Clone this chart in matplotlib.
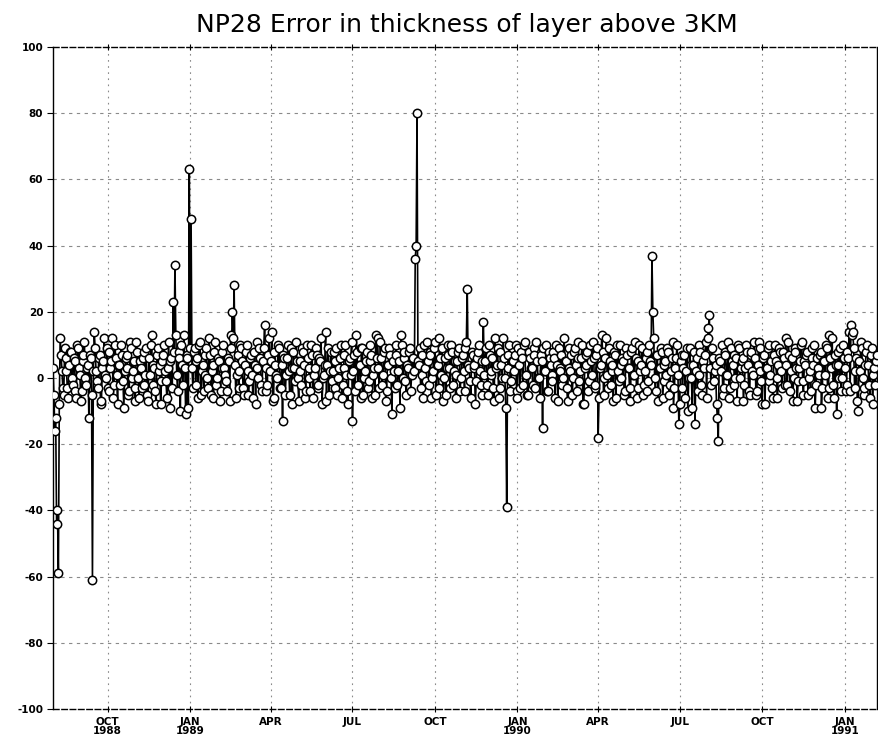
import numpy as np
import matplotlib
matplotlib.use("Agg")
import matplotlib.pyplot as plt
import datetime as dt

# Error values on even days (every 2 days starting 1 Aug 1988)
err_1988 = [3, -16, -44, -59, 12, 2, -5, 6, -3, 4,
            8, -2, 5, -6, 9, 1, -4, 7, 0, 3,
            -12, 6, -61, 14, 2, -3, 7, -7, 5, 1,
            9, -4, 3, 12, -2, 6, -8, 4, 10, -1,
            2, 7, -5, 11, 0, 5, -3, 8, -6, 3,
            6, -2, 9, -7, 1, 13, 4, -4, 7, 2,
            -8, 5, 10, -1, 3, -9, 6, 23, 34, 1,
            8, -10, 4, 13, -11, 6, 63]
err_1989 = [48, -3, 9, 5, -6, 11, 2, -4, 7, 0,
            12, -5, 4, 8, -2, 6, -7, 3, 10, 1,
            -4, 5, 13, 20, 28, -6, 7, 2, 9, -3,
            4, 10, -5, 6, 1, 8, -8, 3, 9, -2,
            5, 16, -4, 7, 2, 14, -6, 4, 0, 9,
            -3, -13, 6, 1, 10, -5, 3, 8, -1, 5,
            -7, 2, 9, 4, -4, 6, 0, 10, -6, 3,
            7, -2, 5, -8, 1, 14, 4, -5, 8, 2,
            -3, 9, 0, 6, -6, 3, 10, -4, 5, 1,
            -13, 7, 13, -2, 4, 9, -5, 2, 8, -1,
            5, -6, 3, 13, 12, -3, 6, 1, 9, -4,
            4, 7, -11, 2, 10, -2, 5, 13, 0, 8,
            -5, 3, 9, 1, 6, 36, 80, 4, -3, 7,
            10, -1, 5, 8, -6, 2, 11, 4, -3, 6,
            9, 0, -5, 7, 3, 10, -2, 5, 1, 8,
            -4, 6, 2, 9, 27, 3, -6, 7, 4, -1,
            8, 2, -5, 17, 5, -2, 10, 1, 6, -7,
            3, 9, -3, 4, 12, 0, -39, 7, -4, 5,
            2, 10, -6]
err_1990 = [4, 8, -2, 11, 1, -5, 6, 3, 9, -3,
            5, 0, 7, -15, 2, 10, -4, 6, 1, 8,
            -6, 4, 9, 2, -2, 12, 5, -7, 3, 7,
            0, 9, -4, 6, 2, 10, -8, 4, 8, -1,
            5, 11, -3, 7, -18, 3, 13, -5, 6, 1,
            9, -2, 4, 8, -6, 2, 10, 0, 5, -4,
            7, 3, -7, 9, 1, 6, -3, 10, 4, -5,
            2, 8, -1, 5, 37, 12, -4, 7, 3, 9,
            -6, 4, 1, 8, -2, 6, -9, 3, 10, -14,
            5, -3, 7, 2, -10, 9, 0, 4, -14, 6,
            1, 8, -5, 3, 11, 12, 19, -2, 6, 2,
            -8, -19, 5, 10, -3, 7, 1, -6, 9, 4,
            -2, 6, 10, 0, 5, -7, 3, 8, -4, 7,
            2, 11, -5, 4, 9, -1, 6, -8, 3, 10,
            1, -3, 7, 5, -6, 9, 2, 8, -2, 4,
            11, -4, 6, 0, 8, -7, 3, 10, -1, 5,
            7, -5, 2, 9, 4, -9, 6, 1, 8, -3,
            5, 10, -6, 13, 3, -2, 7, -11, 4, 9,
            0, 6, -4]
err_1991 = [8, 14, 16, 14, -3, 6, -10, 2, 9, -5, 4, 10, -2, 7, -8, 3, 5]

# Error values on odd days (the day after each value above)
odd_1988 = [-5, -12, -40, -8, 7, -3, 9, 2, -6, 8,
            0, 6, -4, 10, 3, -7, 5, 11, -2, 4,
            7, -5, 2, 9, -1, 6, -8, 3, 12, 0,
            -3, 8, 5, -6, 10, 1, 4, -2, 7, -9,
            6, 3, -4, 9, 2, -7, 11, 0, 5, -3,
            8, 1, -5, 6, 10, -2, 3, -8, 9, 4,
            -1, 7, 2, -6, 11, 5, -3, 8, 13, -4,
            6, 10, -2, 3, 7, -9, 9]
odd_1989 = [3, 8, -2, 6, 10, -5, 4, 1, 9, -3,
            7, 2, -6, 11, 0, 5, -4, 8, 3, -1,
            6, -7, 9, 12, 4, 1, -3, 10, 5, -5,
            8, 2, -1, 7, -6, 4, 11, 0, 6, -4,
            9, 3, -2, 12, 5, -7, 8, 1, 10, -3,
            4, 7, -5, 6, 2, 9, -8, 3, 11, 0,
            5, -2, 8, -6, 10, 3, -4, 7, 1, 9,
            -3, 6, 12, 0, 4, -7, 9, 2, -1, 8,
            5, -5, 3, 10, -2, 7, 1, -8, 6, 11,
            2, -4, 8, 4, -6, 9, 0, 5, -3, 10,
            7, 1, -5, 6, 3, 11, -2, 8, -7, 4,
            9, 0, 5, -3, 7, 2, -9, 10, 6, -1,
            4, 8, -4, 6, 2, 40, 5, 9, 1, -6,
            3, 11, -2, 7, 0, 9, -5, 4, 12, 1,
            -7, 6, 3, 10, -3, 8, 2, -6, 5, 9,
            0, 7, -4, 11, 4, -1, 8, 3, -8, 6,
            10, -2, 5, 1, 9, -5, 7, 2, -3, 12,
            4, -6, 8, 0, 6, -9, 3, 10, -1, 5,
            7, -4, 9]
odd_1990 = [-3, 6, 10, 1, -5, 8, 3, -2, 7, 11,
            0, -6, 5, 9, 2, -4, 8, 4, -1, 6,
            10, -7, 3, 7, 0, 5, -3, 9, 2, -5,
            8, 4, 11, -1, 6, -8, 3, 7, -4, 10,
            1, 6, -2, 9, -6, 4, 8, 0, 12, -3,
            5, 2, -7, 7, 10, -1, 4, 6, -5, 9,
            3, -3, 8, 1, 11, -6, 5, 2, 9, -2,
            6, -4, 10, 4, 20, 0, 7, -7, 3, 8,
            -1, 5, 9, -5, 2, 11, -3, 6, 1, -8,
            7, 3, -6, 9, 0, 4, -9, 8, 2, -4,
            10, -2, 5, 7, -6, 15, 3, 9, -1, 4,
            -12, 6, 2, -5, 8, 1, 11, -3, 5, 7,
            0, -7, 9, 3, 6, -2, 10, 4, -5, 8,
            1, 6, -4, 11, 2, -8, 7, 3, 9, -1,
            5, -6, 10, 0, 4, 8, -3, 6, 12, -2,
            7, 2, -7, 9, 3, -1, 5, 11, -5, 4,
            8, 0, -4, 6, 10, -2, 3, 7, -9, 5,
            1, 9, -3, 6, 12, -6, 4, 8, 0, -4,
            10, 3, -2]
odd_1991 = [6, -4, 13, 9, 2, -7, 5, 11, 0, -3, 8, 4, -6, 9, 1, -2, 7]

tick_dates = ["1988-10-01", "1989-01-01", "1989-04-01", "1989-07-01", "1989-10-01",
              "1990-01-01", "1990-04-01", "1990-07-01", "1990-10-01", "1991-01-01"]
tick_labels = ["OCT\n1988", "JAN\n1989", "APR", "JUL", "OCT",
               "JAN\n1990", "APR", "JUL", "OCT", "JAN\n1991"]
y_ticks = [-100, -80, -60, -40, -20, 0, 20, 40, 60, 80, 100]

even_vals = np.array(err_1988 + err_1989 + err_1990 + err_1991, dtype=float)
odd_vals = np.array(odd_1988 + odd_1989 + odd_1990 + odd_1991, dtype=float)
values = np.empty(even_vals.size + odd_vals.size)
values[0::2] = even_vals
values[1::2] = odd_vals
start = np.datetime64("1988-08-01")
dates = start + np.arange(len(values)) * np.timedelta64(1, "D")
dates = dates.astype("datetime64[D]").astype(dt.datetime)

fig = plt.figure(figsize=(8.79, 7.46), dpi=100)
ax = fig.add_axes([53/879, 1-709/746, 824/879, 662/746])

ax.plot(dates, values, color="black", lw=1.2, marker="o", ms=6,
        mfc="white", mec="black", mew=1.1, zorder=3)

ax.set_xlim(dt.datetime(1988, 8, 1), dt.datetime(1991, 2, 6))
ax.set_ylim(-100, 100)

tdates = [dt.datetime.strptime(d, "%Y-%m-%d") for d in tick_dates]
ax.set_xticks(tdates)
ax.set_xticklabels(tick_labels, fontsize=7.5, fontweight="bold", linespacing=0.95)
ax.set_yticks(y_ticks)
ax.set_yticklabels([str(v) for v in y_ticks], fontsize=7.5, fontweight="bold")

ax.tick_params(axis="x", direction="inout", length=5, width=0.8, pad=3, top=True)
ax.tick_params(axis="y", direction="out", length=4, width=0.8, pad=3)

for d in tdates:
    ax.axvline(d, color="#8a8a8a", lw=0.8, ls=(0, (1.5, 4)), zorder=1)
for v in y_ticks[1:-1]:
    ax.axhline(v, color="#8a8a8a", lw=0.8, ls=(0, (3, 4)), zorder=1)

ax.spines["top"].set_linestyle((0, (4, 2)))
ax.spines["bottom"].set_linestyle((0, (4, 2)))
for s in ax.spines.values():
    s.set_linewidth(1.0)

fig.text(467/879, 1-25/746, "NP28 Error in thickness of layer above 3KM",
         ha="center", va="center", fontsize=18, family="DejaVu Sans",
         color="black")

fig.savefig("out.png", dpi=100)
